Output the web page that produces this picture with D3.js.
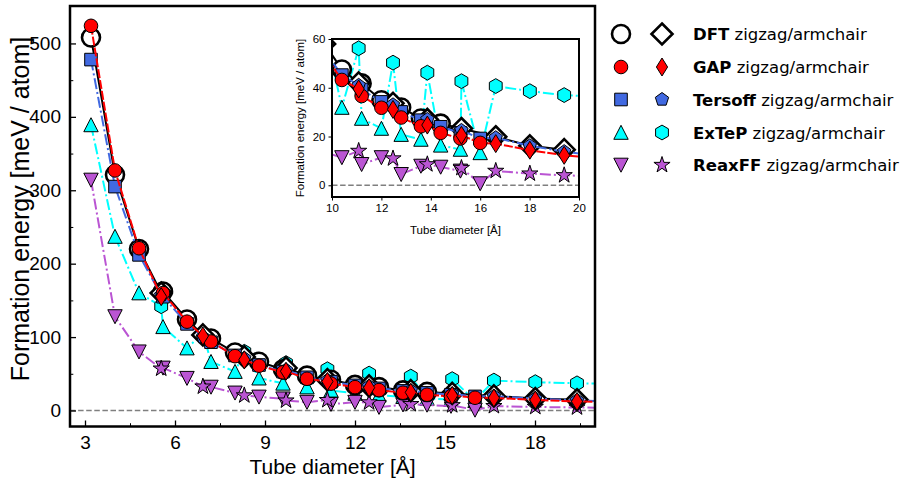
<!DOCTYPE html>
<html><head><meta charset="utf-8">
<script src="https://cdn.jsdelivr.net/npm/d3@7"></script>
<style>body{margin:0;background:#fff}</style>
</head><body>
<svg id="c" width="909" height="481"></svg>
<script>
// ---------------- data ----------------
const zigzagDiam   = [3.2,4.0,4.8,5.6,6.4,7.2,8.0,8.8,9.6,10.4,11.2,12.0,12.8,13.6,14.4,15.2,16.0];
const armchairDiam = [5.54,6.93,8.31,9.70,11.08,12.47,13.86,15.24,16.63,18.01,19.40,20.78];

const dftZigzag     = [508,321,220,162,124,98,79,66.5,56,47.5,41.8,34.9,31.9,27.4,25.3];
const dftArmchair   = [160,103,73,58,42,33.6,27,23.3,19.9,16.2,14.6];
const gapZigzag     = [524,327,221,160,121,94,74,61,52,43.2,36.6,31.8,27.8,24.2,21.5,19.2,17.4];
const gapArmchair   = [155,101.5,69,53.5,39.5,31.1,24.7,20.5,17.1,14.4,12.3,11];
const tersoffZigzag = [478,305,212,155,118,93,75,62,53,45.2,39.3,34.2,30.1,26.7,24.0,21.5,19.2];
const tersoffArmchair = [157,100,71,55,41,33,27,22.5,19.5,16.2,13.8,12];
const extepZigzag   = [389,237,160,114,85,66.5,53,44,37,31.9,27.4,23.3,20.8,18.8,16.4,14.7,13.3];
const extepArmchair = [142,105,80,64.5,56.2,50.3,46.2,42.7,40.7,38.6,37.0,36.2];
const reaxZigzag    = [314,128,80,58,44,32,24,18.5,16,11.4,8.6,11.4,4.5,7.9,7.5,5.9,0.7];
const reaxArmchair  = [57,32.5,20.5,13.5,14.1,11.0,8.6,7.1,5.9,4.8,4.1,3.6];

const methodNames = ["DFT","GAP","Tersoff","ExTeP","ReaxFF"];
const mainXTicks = [3,6,9,12,15,18];
const mainYTicks = [0,100,200,300,400,500];
const insetXTicks = [10,12,14,16,18,20];
const insetYTicks = [0,20,40,60];

// ---------------- styles ----------------
const svg = d3.select("#c");
const FONT = "'Liberation Sans', Arial, Helvetica, sans-serif";

function polyPath(n, r, rot) {
  const pts = d3.range(n).map(i => {
    const a = rot + i * 2 * Math.PI / n;
    return [r * Math.sin(a), -r * Math.cos(a)];
  });
  return "M" + pts.map(p => p[0].toFixed(2) + "," + p[1].toFixed(2)).join("L") + "Z";
}
function starPath(r) {
  const pts = d3.range(10).map(i => {
    const rr = i % 2 ? r * 0.382 : r;
    const a = i * Math.PI / 5;
    return [rr * Math.sin(a), -rr * Math.cos(a)];
  });
  return "M" + pts.map(p => p[0].toFixed(2) + "," + p[1].toFixed(2)).join("L") + "Z";
}
const shapes = {
  bigCircle: d3.arc()({innerRadius:0, outerRadius:9, startAngle:0, endAngle:2*Math.PI}),
  bigDiamond: "M0,-10.5L10.5,0L0,10.5L-10.5,0Z",
  circle: d3.arc()({innerRadius:0, outerRadius:6.8, startAngle:0, endAngle:2*Math.PI}),
  thinDiamond: "M0,-9L5.6,0L0,9L-5.6,0Z",
  square: "M-6.3,-6.3L6.3,-6.3L6.3,6.3L-6.3,6.3Z",
  pentagon: polyPath(5, 7, 0),
  triUp: "M0,-7.2L7.2,6.8L-7.2,6.8Z",
  hexagon: polyPath(6, 7.4, 0),
  triDown: "M0,7.2L7.2,-6.8L-7.2,-6.8Z",
  star: starPath(8.5)
};

const series = [
  {name:"ExTeP", color:"#00ffff", dash:"11,3,2,3", zz:extepZigzag, ac:extepArmchair, mz:"triUp", ma:"hexagon", stroke:"#000", sw:1},
  {name:"ReaxFF", color:"#ba55d3", dash:"11,3,2,3", zz:reaxZigzag, ac:reaxArmchair, mz:"triDown", ma:"star", stroke:"#000", sw:1},
  {name:"DFT", color:"#000000", dash:null, zz:dftZigzag, ac:dftArmchair, mz:"bigCircle", ma:"bigDiamond", fill:"#fff", stroke:"#000", sw:2.6},
  {name:"Tersoff", color:"#4169e1", dash:"11,3,2,3", zz:tersoffZigzag, ac:tersoffArmchair, mz:"square", ma:"pentagon", stroke:"#000", sw:1},
  {name:"GAP", color:"#ff0000", dash:"9,2", zz:gapZigzag, ac:gapArmchair, mz:"circle", ma:"thinDiamond", stroke:"#000", sw:1}
];
series.forEach(s => {
  s.zzPts = s.zz.map((v,i) => ({x: zigzagDiam[i], y: v}));
  s.acPts = s.ac.map((v,i) => ({x: armchairDiam[i], y: v}));
  s.all = s.zzPts.concat(s.acPts).sort((a,b) => a.x - b.x);
});

// ---------------- panel drawing ----------------
function drawPanel(g, o) {
  const x = d3.scaleLinear().domain(o.xd).range([o.l, o.r]);
  const y = d3.scaleLinear().domain(o.yd).range([o.b, o.t]);
  const id = "clip" + o.key;
  svg.append("defs").append("clipPath").attr("id", id)
    .append("rect").attr("x", o.l).attr("y", o.t).attr("width", o.r - o.l).attr("height", o.b - o.t);
  g.append("rect").attr("x", o.l).attr("y", o.t).attr("width", o.r - o.l).attr("height", o.b - o.t).attr("fill", "#fff");
  const pg = g.append("g").attr("clip-path", `url(#${id})`);
  pg.append("line").attr("x1", o.l).attr("x2", o.r).attr("y1", y(0)).attr("y2", y(0))
    .attr("stroke", "#7f7f7f").attr("stroke-width", 1.5).attr("stroke-dasharray", "5.5,2.6");
  const line = d3.line().x(d => x(d.x)).y(d => y(d.y));
  series.forEach(s => {
    pg.append("path").attr("d", line(s.all)).attr("fill", "none")
      .attr("stroke", s.color).attr("stroke-width", 2)
      .attr("stroke-dasharray", s.dash);
    const fill = s.fill || s.color;
    pg.selectAll(null).data(s.zzPts).join("path").attr("d", shapes[s.mz])
      .attr("transform", d => `translate(${x(d.x)},${y(d.y)})`)
      .attr("fill", fill).attr("stroke", s.stroke).attr("stroke-width", s.sw);
    pg.selectAll(null).data(s.acPts).join("path").attr("d", shapes[s.ma])
      .attr("transform", d => `translate(${x(d.x)},${y(d.y)})`)
      .attr("fill", fill).attr("stroke", s.stroke).attr("stroke-width", s.sw);
  });
  const xa = d3.axisBottom(x).tickValues(o.xt).tickSize(o.tickIn ? -o.tl : o.tl).tickPadding(o.pad).tickFormat(d3.format("d"));
  const ya = d3.axisLeft(y).tickValues(o.yt).tickSize(o.tickIn ? -o.tl : o.tl).tickPadding(o.pad).tickFormat(d3.format("d"));
  const gx = g.append("g").attr("transform", `translate(0,${o.b})`).call(xa);
  const gy = g.append("g").attr("transform", `translate(${o.l},0)`).call(ya);
  [gx, gy].forEach(a => {
    a.select(".domain").remove();
    a.selectAll(".tick line").attr("stroke", "#000").attr("stroke-width", o.tw);
    a.selectAll(".tick text").attr("font-family", FONT).attr("font-size", o.fs).attr("fill", "#000");
  });
  if (o.xminor) {
    const ax = d3.axisBottom(x).tickValues(o.xminor).tickSize(-o.tl * 0.55).tickFormat("");
    const m = g.append("g").attr("transform", `translate(0,${o.b})`).call(ax);
    m.select(".domain").remove(); m.selectAll(".tick line").attr("stroke-width", o.tw * 0.8);
  }
  if (o.yminor) {
    const ay = d3.axisLeft(y).tickValues(o.yminor).tickSize(-o.tl * 0.55).tickFormat("");
    const m = g.append("g").attr("transform", `translate(${o.l},0)`).call(ay);
    m.select(".domain").remove(); m.selectAll(".tick line").attr("stroke-width", o.tw * 0.8);
  }
  g.append("rect").attr("x", o.l).attr("y", o.t).attr("width", o.r - o.l).attr("height", o.b - o.t)
    .attr("fill", "none").attr("stroke", "#000").attr("stroke-width", o.fw);
  g.append("text").attr("x", (o.l + o.r) / 2).attr("y", o.xty).attr("text-anchor", "middle")
    .attr("font-family", FONT).attr("font-size", o.xtfs).text("Tube diameter [Å]");
  g.append("text").attr("transform", `translate(${o.ytx},${o.ytc}) rotate(-90)`).attr("text-anchor", "middle")
    .attr("font-family", FONT).attr("font-size", o.ytfs).text("Formation energy [meV / atom]");
}

const mainG = svg.append("g");
drawPanel(mainG, {key:"main", l:70, r:595, t:6, b:426.5, xd:[2.5,20], yd:[-21.8,551],
  xt: mainXTicks, yt: mainYTicks,
  xminor: d3.range(4.5, 20, 3), yminor: d3.range(50, 550, 100),
  tickIn:true, tl:6, tw:1.3, pad:9, fs:19, fw:2.5, xtfs:21, ytfs:25, xty:474, ytx:29, ytc:209});

const insetG = svg.append("g");
drawPanel(insetG, {key:"inset", l:332, r:579, t:39, b:197, xd:[10,20], yd:[-4.8,60],
  xt: insetXTicks, yt: insetYTicks,
  tickIn:false, tl:3.5, tw:1, pad:3, fs:11.5, fw:2, xtfs:11.5, ytfs:11.5, xty:234, ytx:304, ytc:118});

// ---------------- legend ----------------
const legendRowY = [34, 67, 99.5, 132.5, 165];
const lg = svg.append("g");
methodNames.forEach((nm, i) => {
  const s = series.find(d => d.name === nm);
  const yy = legendRowY[i];
  const fill = s.fill || s.color;
  lg.append("path").attr("d", shapes[s.mz]).attr("transform", `translate(621,${yy})`)
    .attr("fill", fill).attr("stroke", s.stroke).attr("stroke-width", s.sw);
  lg.append("path").attr("d", shapes[s.ma]).attr("transform", `translate(662,${yy})`)
    .attr("fill", fill).attr("stroke", s.stroke).attr("stroke-width", s.sw);
  const t = lg.append("text").attr("x", 693).attr("y", yy + 6)
    .attr("font-family", "'DejaVu Sans', sans-serif").attr("font-size", 16.5);
  t.append("tspan").attr("font-weight", "bold").text(nm);
  t.append("tspan").text(" zigzag/armchair");
});
</script>
</body></html>
